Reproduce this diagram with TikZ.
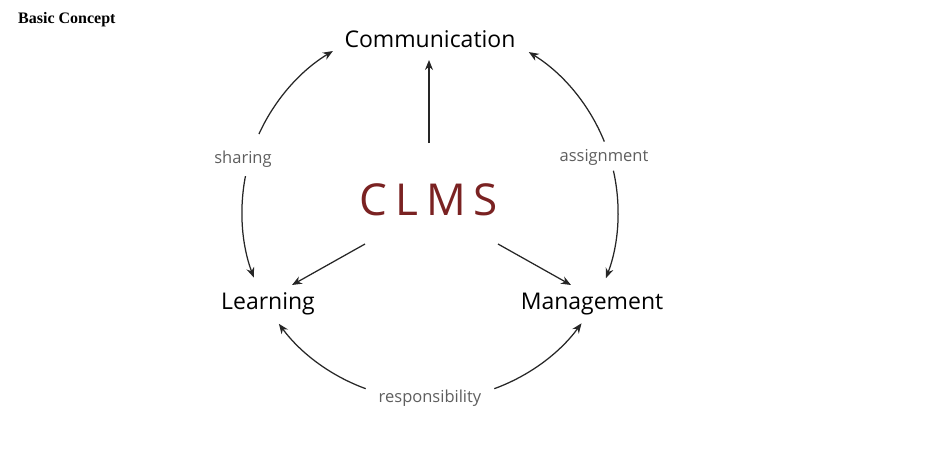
\documentclass[tikz,border=0pt]{standalone}
\usepackage{fontspec}
\setmainfont{Open Sans}
\newfontfamily\titlefont{Liberation Serif}
\usetikzlibrary{arrows.meta,calc}
\definecolor{clmsred}{HTML}{7A2222}
\definecolor{labgray}{HTML}{5E5E5E}
\tikzset{
  x=1pt,y=1pt,
  main/.style={font=\fontsize{23}{26}\selectfont, text=black, inner sep=0pt},
  lab/.style={font=\fontsize{16.5}{19}\selectfont, text=labgray, inner sep=0pt},
  conn/.style={line width=1.25pt, draw=black!85, -{Stealth[length=10pt,width=8pt]}},
}
\begin{document}
\begin{tikzpicture}
\useasboundingbox (0,0) rectangle (925,-460);
\node[anchor=west, inner sep=0pt, font=\titlefont\bfseries\fontsize{16}{18}\selectfont] (title) at (18,-20) {Basic Concept};
\node[main] (comm) at (430,-39) {Communication};
\node[main] (learn) at (268,-304) {Learning};
\node[main] (manage) at (592,-304) {Management};
\node[inner sep=0pt, text=clmsred, font=\fontsize{44}{48}\selectfont\addfontfeature{LetterSpace=18}] (clms) at (429,-200) {CLMS};
\node[lab] (sharing) at (243,-159) {sharing};
\node[lab] (assign) at (604,-157) {assignment};
\node[lab] (resp) at (430,-398) {responsibility};
% straight connectors
\coordinate (cu) at (429,-143);
\coordinate (cutip) at (429,-60);
\coordinate (cl) at (365,-244);
\coordinate (cltip) at (292,-285);
\coordinate (cr) at (498,-244);
\coordinate (crtip) at (571,-285);
\draw[conn] (cu) -- (cutip);
\draw[conn] (cl) -- (cltip);
\draw[conn] (cr) -- (crtip);
% arcs on circle centred (430,-212), r=188
\coordinate (O) at (430,-212);
\def\R{188}
\draw[conn] ($(O)+(155.5:\R)$) coordinate (s1) arc[start angle=155.5, end angle=121.1, radius=\R];
\draw[conn] ($(O)+(169:\R)$) coordinate (s2) arc[start angle=169, end angle=200.4, radius=\R];
\draw[conn] ($(O)+(22:\R)$) coordinate (a1) arc[start angle=22, end angle=58.3, radius=\R];
\draw[conn] ($(O)+(12.7:\R)$) coordinate (a2) arc[start angle=12.7, end angle=-20.6, radius=\R];
\draw[conn] ($(O)+(250:\R)$) coordinate (r1) arc[start angle=250, end angle=216.5, radius=\R];
\draw[conn] ($(O)+(290:\R)$) coordinate (r2) arc[start angle=290, end angle=323.7, radius=\R];
\end{tikzpicture}
\end{document}
